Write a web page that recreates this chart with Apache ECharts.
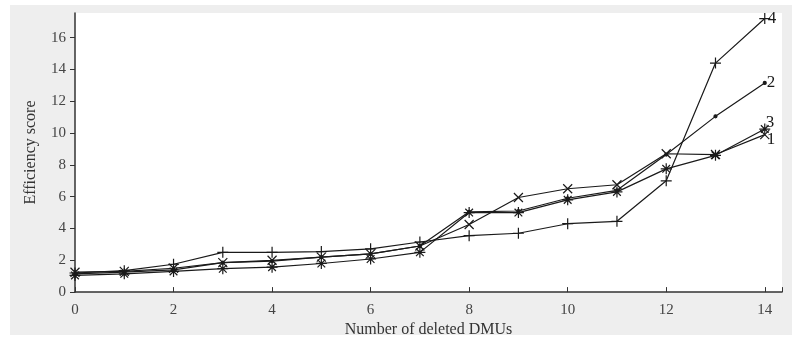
<!DOCTYPE html>
<html>
<head>
<meta charset="utf-8">
<script src="https://cdn.jsdelivr.net/npm/echarts@6/dist/echarts.min.js"></script>
<style>
html,body{margin:0;padding:0;background:#fff;}
#c{width:792px;height:343px;}
</style>
</head>
<body>
<div id="c"></div>
<script>
// Data
const deleted = [0,1,2,3,4,5,6,7,8,9,10,11,12,13,14];
const series1 = [1.25,1.3,1.5,1.85,2.0,2.2,2.4,2.9,4.25,5.95,6.5,6.75,8.7,8.65,9.9];
const series2 = [1.15,1.25,1.4,1.85,1.95,2.2,2.4,2.9,5.05,5.1,5.9,6.4,8.65,11.05,13.15];
const series3 = [1.05,1.15,1.3,1.47,1.57,1.8,2.08,2.5,5.0,5.0,5.8,6.3,7.75,8.6,10.25];
const series4 = [1.2,1.35,1.75,2.5,2.5,2.55,2.72,3.15,3.55,3.7,4.3,4.45,7.0,14.4,17.2];
const seriesNames = ['1','2','3','4'];
const yTicks = [0,2,4,6,8,10,12,14,16];
const xTicks = [0,2,4,6,8,10,12,14];

const SERIF = '"Liberation Serif","DejaVu Serif",serif';
const INK = '#1a1a1a';
const sym = {
  plus: 'path://M5,0L5,10M0,5L10,5',
  cross: 'path://M0,0L10,10M10,0L0,10',
  star: 'path://M5,0L5,10M0,5L10,5M1.5,1.5L8.5,8.5M8.5,1.5L1.5,8.5'
};
function pairs(arr){ return deleted.map((x,i)=>[x,arr[i]]); }
function mk(name, data, symbol, size, labelOffset){
  return {
    name, type:'line', data: pairs(data), symbol, symbolSize:size,
    lineStyle:{color:INK,width:1.2},
    itemStyle:{color:INK,borderColor:INK,borderWidth:1.2},
    endLabel:{show:true,formatter:name,color:INK,fontFamily:SERIF,fontSize:17,offset:labelOffset,distance:1},
    emphasis:{disabled:true}, animation:false
  };
}
const chart = echarts.init(document.getElementById('c'));
chart.setOption({
  animation:false,
  backgroundColor:'#fff',
  graphic:[{type:'rect',shape:{x:10,y:5,width:782,height:330},style:{fill:'#eeeeee'},z:-10,silent:true}],
  grid:{left:75,right:10,top:13,bottom:46,show:true,backgroundColor:'#fff',borderWidth:0},
  xAxis:{
    type:'value',min:0,max:14.35,interval:2,
    name:'Number of deleted DMUs',nameLocation:'middle',nameGap:23,
    nameTextStyle:{fontFamily:SERIF,fontSize:16,color:'#333'},
    axisLine:{lineStyle:{color:'#333',width:1.5}},
    axisTick:{inside:true,length:5,lineStyle:{color:'#333'}},
    axisLabel:{fontFamily:SERIF,fontSize:15,color:'#444',margin:10,customValues:xTicks},
    splitLine:{show:false}
  },
  yAxis:{
    type:'value',min:0,max:17.55,interval:2,
    name:'Efficiency score',nameLocation:'middle',nameGap:36,
    nameTextStyle:{fontFamily:SERIF,fontSize:16,color:'#333'},
    axisLine:{show:true,lineStyle:{color:'#333',width:1.5}},
    axisTick:{show:true,length:5,lineStyle:{color:'#333'},customValues:yTicks},
    axisLabel:{fontFamily:SERIF,fontSize:15,color:'#444',margin:9,customValues:yTicks},
    splitLine:{show:false}
  },
  series:[
    mk(seriesNames[0], series1, sym.cross, 9, [1,5]),
    mk(seriesNames[1], series2, 'circle', 3, [1,0]),
    mk(seriesNames[2], series3, sym.star, 11, [0,-7]),
    mk(seriesNames[3], series4, sym.plus, 11, [2,0])
  ]
});
</script>
</body>
</html>
